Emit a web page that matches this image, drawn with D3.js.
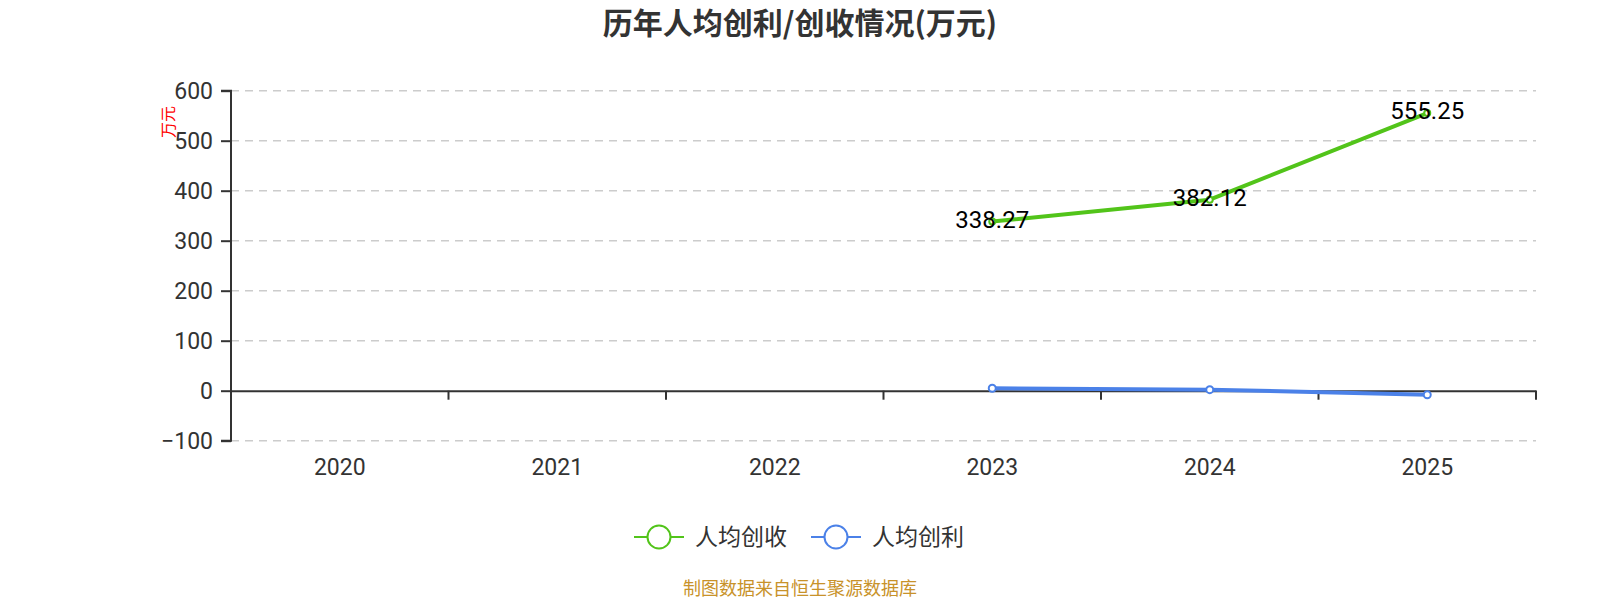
<!DOCTYPE html>
<html>
<head>
<meta charset="utf-8">
<script src="https://cdn.jsdelivr.net/npm/d3@7/dist/d3.min.js"></script>
<style>
  body { margin: 0; background: #fff; }
  svg { font-family: "Noto Sans CJK SC", "Noto Sans", sans-serif; }
</style>
</head>
<body>
<svg id="chart" width="1600" height="600"></svg>
<script>
// data
const years = ["2020", "2021", "2022", "2023", "2024", "2025"];
const revenuePerHead = [null, null, null, 338.27, 382.12, 555.25];
const profitPerHead = [null, null, null, 4.8, 2.1, -8.0];
const yTicks = [-100, 0, 100, 200, 300, 400, 500, 600];
const seriesNames = ["人均创收", "人均创利"];
const seriesColors = ["#52c41a", "#4b81e8"];

const svg = d3.select("#chart");
const plotL = 231, plotR = 1536, plotT = 90.7, plotB = 440.7;
const cx = 800;
const numFont = "Roboto, 'Noto Sans', sans-serif";

const x = d3.scaleBand().domain(years).range([plotL, plotR]);
const y = d3.scaleLinear().domain([-100, 600]).range([plotB, plotT]);

// title
svg.append("text")
  .attr("x", cx).attr("y", 34)
  .attr("text-anchor", "middle")
  .style("font-size", "30px").style("font-weight", "bold")
  .style("fill", "#333")
  .text("历年人均创利/创收情况(万元)");

// grid
svg.append("g").selectAll("line")
  .data(yTicks.filter(d => d !== 0))
  .enter().append("line")
  .attr("x1", plotL).attr("x2", plotR)
  .attr("y1", d => y(d)).attr("y2", d => y(d))
  .style("stroke", "#ccc").style("stroke-width", 1.5).style("stroke-dasharray", "8,6");

// y axis
const yAxis = svg.append("g")
  .attr("transform", `translate(${plotL},0)`)
  .call(d3.axisLeft(y).tickValues(yTicks).tickSize(10).tickPadding(8)
    .tickFormat(d => d < 0 ? "−" + Math.abs(d) : d));
yAxis.select(".domain").style("stroke", "#333").style("stroke-width", 2)
  .attr("d", `M-10,${plotB}H0V${plotT}H-10`);
yAxis.selectAll(".tick line").style("stroke", "#333").style("stroke-width", 2);
yAxis.selectAll(".tick text").style("font-size", "23px").style("fill", "#333")
  .style("font-family", numFont);

// y axis name
svg.append("text")
  .attr("transform", "translate(174,122) rotate(-90)")
  .attr("text-anchor", "middle")
  .style("font-size", "16px").style("fill", "red")
  .text("万元");

// x axis at zero
const xAxis = svg.append("g")
  .attr("transform", `translate(0,${y(0)})`)
  .call(d3.axisBottom(x).tickSize(0).tickFormat(""));
xAxis.select(".domain").style("stroke", "#333").style("stroke-width", 2);
xAxis.selectAll(".tick").remove();
svg.append("g").selectAll("line")
  .data(years)
  .enter().append("line")
  .attr("x1", d => x(d) + x.bandwidth())
  .attr("x2", d => x(d) + x.bandwidth())
  .attr("y1", y(0)).attr("y2", y(0) + 9)
  .style("stroke", "#333").style("stroke-width", 2);
svg.append("g").selectAll("text")
  .data(years).enter().append("text")
  .attr("x", d => x(d) + x.bandwidth() / 2)
  .attr("y", 475)
  .attr("text-anchor", "middle")
  .style("font-size", "23px").style("fill", "#333")
  .style("font-family", numFont)
  .text(d => d);

// series
const allSeries = [revenuePerHead, profitPerHead];
const line = d3.line()
  .defined(d => d.v !== null)
  .x(d => x(d.year) + x.bandwidth() / 2)
  .y(d => y(d.v));

allSeries.forEach((vals, si) => {
  const pts = years.map((year, i) => ({ year, v: vals[i] }));
  const g = svg.append("g");
  g.append("path")
    .datum(pts)
    .attr("d", line)
    .style("fill", "none")
    .style("stroke", seriesColors[si])
    .style("stroke-width", 4)
    .style("stroke-linejoin", "round");
  g.selectAll("circle")
    .data(pts.filter(d => d.v !== null))
    .enter().append("circle")
    .attr("cx", d => x(d.year) + x.bandwidth() / 2)
    .attr("cy", d => y(d.v))
    .attr("r", si === 0 ? 3 : 3.5)
    .style("fill", "#fff")
    .style("stroke", seriesColors[si])
    .style("stroke-width", 2);
  if (si === 0) {
    g.selectAll("text.lbl")
      .data(pts.filter(d => d.v !== null))
      .enter().append("text")
      .attr("class", "lbl")
      .attr("x", d => x(d.year) + x.bandwidth() / 2)
      .attr("y", d => y(d.v) + 6)
      .attr("text-anchor", "middle")
      .style("font-size", "24px").style("fill", "#000")
      .style("font-family", numFont)
      .text(d => d3.format(".2f")(d.v));
  }
});

// legend
const legendX = [634, 811];
seriesNames.forEach((name, i) => {
  const lg = svg.append("g").attr("transform", `translate(${legendX[i]},537)`);
  lg.append("line").attr("x1", 0).attr("x2", 50).attr("y1", 0).attr("y2", 0)
    .style("stroke", seriesColors[i]).style("stroke-width", 2);
  lg.append("circle").attr("cx", 25).attr("cy", 0).attr("r", 11.5)
    .style("fill", "#fff").style("stroke", seriesColors[i]).style("stroke-width", 2);
  lg.append("text").attr("x", 61).attr("y", 8)
    .style("font-size", "23px").style("fill", "#333")
    .text(name);
});

// source
svg.append("text")
  .attr("x", cx).attr("y", 595)
  .attr("text-anchor", "middle")
  .style("font-size", "18px").style("fill", "#c8922a")
  .text("制图数据来自恒生聚源数据库");
</script>
</body>
</html>
